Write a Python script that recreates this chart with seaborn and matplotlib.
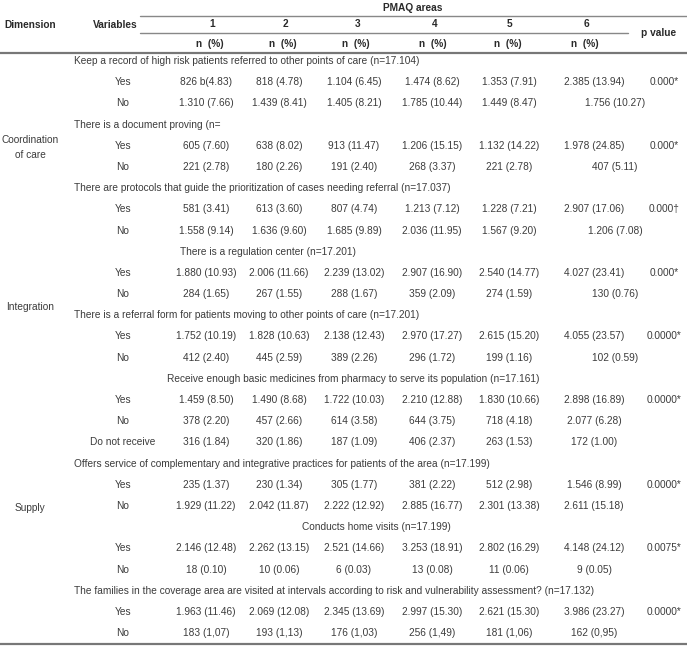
import numpy as np
import pandas as pd
import seaborn as sns
import matplotlib.pyplot as plt

sns.set_theme(style="white")
plt.rcParams['font.family'] = ['Liberation Sans', 'DejaVu Sans']

# 表格数据
areas = ['1', '2', '3', '4', '5', '6']
dimensions = ['Coordination\nof care', 'Integration', 'Supply']
dim_sections = [[0, 1, 2], [3, 4], [5, 6, 7, 8]]

titles = [
    'Keep a record of high risk patients referred to other points of care (n=17.104)',
    'There is a document proving (n=',
    'There are protocols that guide the prioritization of cases needing referral (n=17.037)',
    'There is a regulation center (n=17.201)',
    'There is a referral form for patients moving to other points of care (n=17.201)',
    'Receive enough basic medicines from pharmacy to serve its population (n=17.161)',
    'Offers service of complementary and integrative practices for patients of the area (n=17.199)',
    'Conducts home visits (n=17.199)',
    'The families in the coverage area are visited at intervals according to risk and vulnerability assessment? (n=17.132)',
]

levels = [
    ['Yes', 'No'], ['Yes', 'No'], ['Yes', 'No'], ['Yes', 'No'], ['Yes', 'No'],
    ['Yes', 'No', 'Do not receive'], ['Yes', 'No'], ['Yes', 'No'], ['Yes', 'No'],
]

counts = [
    [['826 b(4.83)', '818 (4.78)', '1.104 (6.45)', '1.474 (8.62)', '1.353 (7.91)', '2.385 (13.94)'],
     ['1.310 (7.66)', '1.439 (8.41)', '1.405 (8.21)', '1.785 (10.44)', '1.449 (8.47)', '1.756 (10.27)']],
    [['605 (7.60)', '638 (8.02)', '913 (11.47)', '1.206 (15.15)', '1.132 (14.22)', '1.978 (24.85)'],
     ['221 (2.78)', '180 (2.26)', '191 (2.40)', '268 (3.37)', '221 (2.78)', '407 (5.11)']],
    [['581 (3.41)', '613 (3.60)', '807 (4.74)', '1.213 (7.12)', '1.228 (7.21)', '2.907 (17.06)'],
     ['1.558 (9.14)', '1.636 (9.60)', '1.685 (9.89)', '2.036 (11.95)', '1.567 (9.20)', '1.206 (7.08)']],
    [['1.880 (10.93)', '2.006 (11.66)', '2.239 (13.02)', '2.907 (16.90)', '2.540 (14.77)', '4.027 (23.41)'],
     ['284 (1.65)', '267 (1.55)', '288 (1.67)', '359 (2.09)', '274 (1.59)', '130 (0.76)']],
    [['1.752 (10.19)', '1.828 (10.63)', '2.138 (12.43)', '2.970 (17.27)', '2.615 (15.20)', '4.055 (23.57)'],
     ['412 (2.40)', '445 (2.59)', '389 (2.26)', '296 (1.72)', '199 (1.16)', '102 (0.59)']],
    [['1.459 (8.50)', '1.490 (8.68)', '1.722 (10.03)', '2.210 (12.88)', '1.830 (10.66)', '2.898 (16.89)'],
     ['378 (2.20)', '457 (2.66)', '614 (3.58)', '644 (3.75)', '718 (4.18)', '2.077 (6.28)'],
     ['316 (1.84)', '320 (1.86)', '187 (1.09)', '406 (2.37)', '263 (1.53)', '172 (1.00)']],
    [['235 (1.37)', '230 (1.34)', '305 (1.77)', '381 (2.22)', '512 (2.98)', '1.546 (8.99)'],
     ['1.929 (11.22)', '2.042 (11.87)', '2.222 (12.92)', '2.885 (16.77)', '2.301 (13.38)', '2.611 (15.18)']],
    [['2.146 (12.48)', '2.262 (13.15)', '2.521 (14.66)', '3.253 (18.91)', '2.802 (16.29)', '4.148 (24.12)'],
     ['18 (0.10)', '10 (0.06)', '6 (0.03)', '13 (0.08)', '11 (0.06)', '9 (0.05)']],
    [['1.963 (11.46)', '2.069 (12.08)', '2.345 (13.69)', '2.997 (15.30)', '2.621 (15.30)', '3.986 (23.27)'],
     ['183 (1,07)', '193 (1,13)', '176 (1,03)', '256 (1,49)', '181 (1,06)', '162 (0,95)']],
]

p_values = ['0.000*', '0.000*', '0.000\u2020', '0.000*', '0.0000*',
            '0.0000*', '0.0000*', '0.0075*', '0.0000*']

# 版式（像素坐标）
W, H = 687, 646
col_x = [206, 279, 354, 432, 509, 594]
p_x = 664
var_x = 123
dim_x = 30
title_left = {3: 180, 5: 167, 7: 302}
merged_no = [0, 1, 2, 3, 4]
row0, row_h = 61, 21.19
fs = 7.3
txt = '#3c3c3c'

fig = plt.figure(figsize=(W / 100, H / 100), dpi=100)
ax = fig.add_axes([0, 0, 1, 1])
ax.set_xlim(0, W)
ax.set_ylim(H, 0)
ax.axis('off')

# 表头
hb = dict(fontsize=fs, fontweight='bold', color='#2a2a2a', va='center')
ax.text(413, 8, 'PMAQ areas', ha='center', **hb)
ax.text(dim_x, 25, 'Dimension', ha='center', **hb)
ax.text(115, 25, 'Variables', ha='center', **hb)
ax.text(659, 33, 'p value', ha='center', **hb)
hx = [212, 285, 358, 435, 510, 587]
for x, a in zip(hx, areas):
    ax.text(x, 24, a, ha='center', **hb)
    ax.text(x - 2, 44, 'n  (%)', ha='center', **hb)
ax.plot([140, W], [16, 16], color='#888888', lw=1.0)
ax.plot([140, 628], [33, 33], color='#888888', lw=1.0)
ax.plot([0, W], [52.5, 52.5], color='#777777', lw=1.6)

# 正文
i = 0
sec_rows = []
for s, title in enumerate(titles):
    y = row0 + i * row_h
    rows_here = [y]
    ax.text(title_left.get(s, 74), y, title, ha='left', va='center',
            fontsize=fs, color=txt)
    i += 1
    for r, (lab, vals) in enumerate(zip(levels[s], counts[s])):
        y = row0 + i * row_h
        rows_here.append(y)
        ax.text(var_x, y, lab, ha='center', va='center', fontsize=fs, color=txt)
        for c, v in enumerate(vals):
            x = col_x[c]
            if c == 5 and r == 1 and s in merged_no:
                x = 615
            ax.text(x, y, v, ha='center', va='center', fontsize=fs, color=txt)
        if r == 0:
            ax.text(p_x, y, p_values[s], ha='center', va='center', fontsize=fs, color=txt)
        i += 1
    sec_rows.append(rows_here)

for d, secs in zip(dimensions, dim_sections):
    ys = [y for s in secs for y in sec_rows[s]]
    ax.text(dim_x, (min(ys) + max(ys)) / 2 + 2, d, ha='center', va='center',
            fontsize=fs, color=txt, linespacing=1.6)

ax.plot([0, W], [644, 644], color='#777777', lw=1.6)

fig.savefig('out.png', dpi=100)
